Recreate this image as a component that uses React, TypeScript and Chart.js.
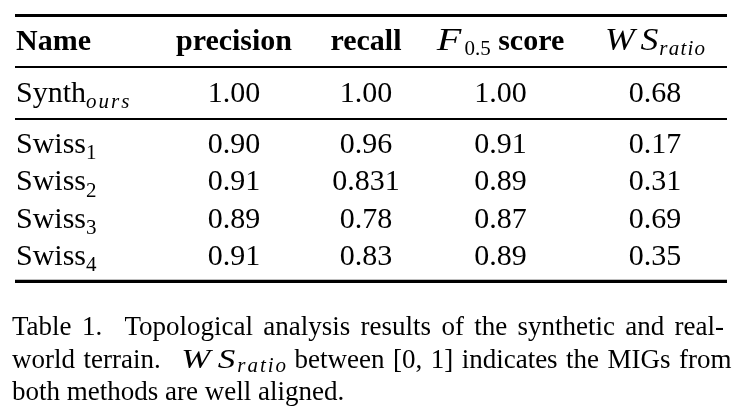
import React, { useEffect, useRef } from "react";
import { Chart, registerables } from "chart.js";

Chart.register(...registerables);

// ---------- data ----------
const columns = ["Name", "precision", "recall", "F_0.5 score", "WS_ratio"];
const rowNames = ["Synth_ours", "Swiss_1", "Swiss_2", "Swiss_3", "Swiss_4"];
const precision = [1.0, 0.9, 0.91, 0.89, 0.91];
const recall = [1.0, 0.96, 0.831, 0.78, 0.83];
const fScore = [1.0, 0.91, 0.89, 0.87, 0.89];
const wsRatio = [0.68, 0.17, 0.31, 0.69, 0.35];
const captionLines = [
  "Table 1.  Topological analysis results of the synthetic and real-",
  "world terrain.  $WS_ratio$ between [0, 1] indicates the MIGs from",
  "both methods are well aligned.",
];

// ---------- layout / style ----------
const W = 750;
const H = 415;
const COL_X = [16, 234, 366, 500.5, 655];
const COL_ALIGN = ["left", "center", "center", "center", "center"];
const HEADER_Y = 50;
const ROW_Y = [101.7, 153, 190.3, 227.7, 265];
const RULE_X = [15, 727];
const RULES = [
  { y: 15.5, w: 2.8 },
  { y: 67, w: 2 },
  { y: 119, w: 2 },
  { y: 281.3, w: 3.3 },
];
const CAP_LEFT = 12;
const CAP_RIGHT = [724, 731.5, null];
const CAP_BASE = [335, 367.5, 400];
const CAP_SENTENCE_EXTRA = 12;

const SERIF = '"Liberation Serif", "Times New Roman", Times, serif';
const FS = 30;
const SUB_FS = 21;
const CAP_FS = 27;
const CAP_SUB_FS = 21;
const BOLD = `bold ${FS}px ${SERIF}`;
const REG = `${FS}px ${SERIF}`;
const MATH_IT = `italic 31px ${SERIF}`;
const SUB_IT = `italic ${SUB_FS}px ${SERIF}`;
const SUB_RM = `${SUB_FS}px ${SERIF}`;
const CAP_REG = `${CAP_FS}px ${SERIF}`;
const CAP_IT = `italic 28px ${SERIF}`;
const CAP_SUB_IT = `italic ${CAP_SUB_FS}px ${SERIF}`;
// math italic shaping (wider, Computer-Modern-like)
type Shape = { sx: number; ls: number; kern: number };
const MATH_SHAPE: Record<string, Shape> = {
  F: { sx: 1.3, ls: 0, kern: 3 },
  WS: { sx: 1.15, ls: 5, kern: 1 },
};
const CAP_MATH_SHAPE: Record<string, Shape> = {
  WS: { sx: 1.25, ls: 6, kern: 2 },
};
const HDR_SUB_LS = 1.2;
const ROW_SUB_LS = 2;
const CAP_SUB_LS = 2;
const HDR_SUB_DY = 4.5;
const ROW_SUB_DY = 6.3;
const CAP_SUB_DY = 4.5;

type Seg = { t: string; font: string; dy?: number; ls?: number; sx?: number; kern?: number };

function fmt(n: number): string {
  const r = n * 100;
  return Math.abs(r - Math.round(r)) < 1e-9 ? n.toFixed(2) : String(n);
}

function setSeg(ctx: CanvasRenderingContext2D, s: Seg) {
  ctx.font = s.font;
  (ctx as any).letterSpacing = `${s.ls || 0}px`;
}
function segW(ctx: CanvasRenderingContext2D, s: Seg) {
  setSeg(ctx, s);
  const raw = ctx.measureText(s.t).width - (s.ls || 0);
  return raw * (s.sx || 1) + (s.kern || 0);
}
function richW(ctx: CanvasRenderingContext2D, segs: Seg[]) {
  return segs.reduce((a, s) => a + segW(ctx, s), 0);
}
function drawRich(ctx: CanvasRenderingContext2D, segs: Seg[], x: number, y: number) {
  let cx = x;
  for (const s of segs) {
    const w = segW(ctx, s);
    setSeg(ctx, s);
    if (s.sx && s.sx !== 1) {
      ctx.save();
      ctx.translate(cx, y + (s.dy || 0));
      ctx.scale(s.sx, 1);
      ctx.fillText(s.t, 0, 0);
      ctx.restore();
    } else {
      ctx.fillText(s.t, cx, y + (s.dy || 0));
    }
    cx += w;
  }
  (ctx as any).letterSpacing = "0px";
  return cx;
}

function subSeg(sub: string, alphaFont: string, digitFont: string, dy: number, ls: number): Seg {
  const isDigit = /^[0-9.]+$/.test(sub);
  return { t: sub, font: isDigit ? digitFont : alphaFont, dy, ls: isDigit ? 0 : ls };
}

function mathSeg(base: string, font: string, shapes: Record<string, Shape>): Seg {
  const sh = shapes[base] || { sx: 1, ls: 0, kern: 0 };
  return { t: base, font, sx: sh.sx, ls: sh.ls, kern: sh.kern };
}

function headerSegs(label: string): Seg[] {
  const i = label.indexOf("_");
  if (i < 0) return [{ t: label, font: BOLD }];
  const base = label.slice(0, i);
  const rest = label.slice(i + 1);
  const sp = rest.indexOf(" ");
  const sub = sp < 0 ? rest : rest.slice(0, sp);
  const after = sp < 0 ? "" : rest.slice(sp);
  const segs: Seg[] = [
    mathSeg(base, MATH_IT, MATH_SHAPE),
    subSeg(sub, SUB_IT, SUB_RM, HDR_SUB_DY, HDR_SUB_LS),
  ];
  if (after) segs.push({ t: after, font: BOLD });
  return segs;
}

function nameSegs(label: string): Seg[] {
  const [base, sub] = label.split("_");
  const segs: Seg[] = [{ t: base, font: REG }];
  if (sub) segs.push(subSeg(sub, SUB_IT, SUB_RM, ROW_SUB_DY, ROW_SUB_LS));
  return segs;
}

function captionWord(word: string): Seg[] {
  if (word.startsWith("$") && word.endsWith("$")) {
    const inner = word.slice(1, -1);
    const [base, sub] = inner.split("_");
    return [
      mathSeg(base, CAP_IT, CAP_MATH_SHAPE),
      { t: sub, font: CAP_SUB_IT, dy: CAP_SUB_DY, ls: CAP_SUB_LS },
    ];
  }
  return [{ t: word, font: CAP_REG }];
}

const valueCols = [precision, recall, fScore, wsRatio];

const tablePlugin = {
  id: "tableText",
  afterDatasetsDraw(chart: any) {
    const ctx: CanvasRenderingContext2D = chart.ctx;
    ctx.save();
    ctx.fillStyle = "#000";
    ctx.textBaseline = "alphabetic";
    ctx.textAlign = "left";
    chart.data.datasets.forEach((ds: any, di: number) => {
      if (ds.role !== "cells") return;
      const meta = chart.getDatasetMeta(di);
      const c = ds.col as number;
      meta.data.forEach((el: any, j: number) => {
        let segs: Seg[];
        if (j === 0) segs = headerSegs(columns[c]);
        else if (c === 0) segs = nameSegs(rowNames[j - 1]);
        else segs = [{ t: fmt(valueCols[c - 1][j - 1]), font: REG }];
        const w = richW(ctx, segs);
        const x = COL_ALIGN[c] === "left" ? el.x : el.x - w / 2;
        drawRich(ctx, segs, x, el.y);
      });
    });

    // caption
    const xs = chart.scales.x;
    const ys = chart.scales.y;
    const left = xs.getPixelForValue(CAP_LEFT);
    captionLines.forEach((line, li) => {
      const parts = line.split(" ");
      const words: Seg[][] = [];
      const extra: number[] = [];
      let pendingExtra = 0;
      parts.forEach((p) => {
        if (p === "") {
          pendingExtra = CAP_SENTENCE_EXTRA;
          return;
        }
        if (words.length) extra.push(pendingExtra);
        pendingExtra = 0;
        words.push(captionWord(p));
      });
      const widths = words.map((w) => richW(ctx, w));
      const total = widths.reduce((a, b) => a + b, 0) + extra.reduce((a, b) => a + b, 0);
      const r = CAP_RIGHT[li];
      ctx.font = CAP_REG;
      (ctx as any).letterSpacing = "0px";
      let gap = ctx.measureText(" ").width;
      if (r != null && extra.length) {
        gap = (xs.getPixelForValue(r) - left - total) / extra.length;
      }
      const y = ys.getPixelForValue(CAP_BASE[li]);
      let cx = left;
      words.forEach((w, i) => {
        drawRich(ctx, w, cx, y);
        cx += widths[i];
        if (i < extra.length) cx += gap + extra[i];
      });
    });
    ctx.restore();
  },
};

export default function App() {
  const ref = useRef<HTMLCanvasElement | null>(null);
  useEffect(() => {
    if (!ref.current) return;
    const cellSets = columns.map((_, c) => ({
      type: "scatter" as const,
      role: "cells",
      col: c,
      label: columns[c],
      data: [HEADER_Y, ...ROW_Y].map((y) => ({ x: COL_X[c], y })),
      pointRadius: 0,
      showLine: false,
    }));
    const ruleSets = RULES.map((r, i) => ({
      type: "line" as const,
      role: "rule",
      label: `rule${i}`,
      data: [
        { x: RULE_X[0], y: r.y },
        { x: RULE_X[1], y: r.y },
      ],
      borderColor: "#000",
      borderWidth: r.w,
      pointRadius: 0,
      fill: false,
    }));
    const chart = new Chart(ref.current, {
      type: "scatter",
      data: { datasets: [...ruleSets, ...cellSets] as any },
      options: {
        animation: false,
        responsive: false,
        devicePixelRatio: 1,
        layout: { padding: 0 },
        scales: {
          x: { type: "linear", min: 0, max: W, display: false },
          y: { type: "linear", min: 0, max: H, reverse: true, display: false },
        },
        plugins: { legend: { display: false }, tooltip: { enabled: false } },
        events: [],
      },
      plugins: [tablePlugin],
    });
    return () => chart.destroy();
  }, []);
  return (
    <div style={{ position: "fixed", left: 0, top: 0, width: W, height: H, background: "#fff" }}>
      <canvas ref={ref} width={W} height={H} style={{ width: W, height: H, display: "block" }} />
    </div>
  );
}
